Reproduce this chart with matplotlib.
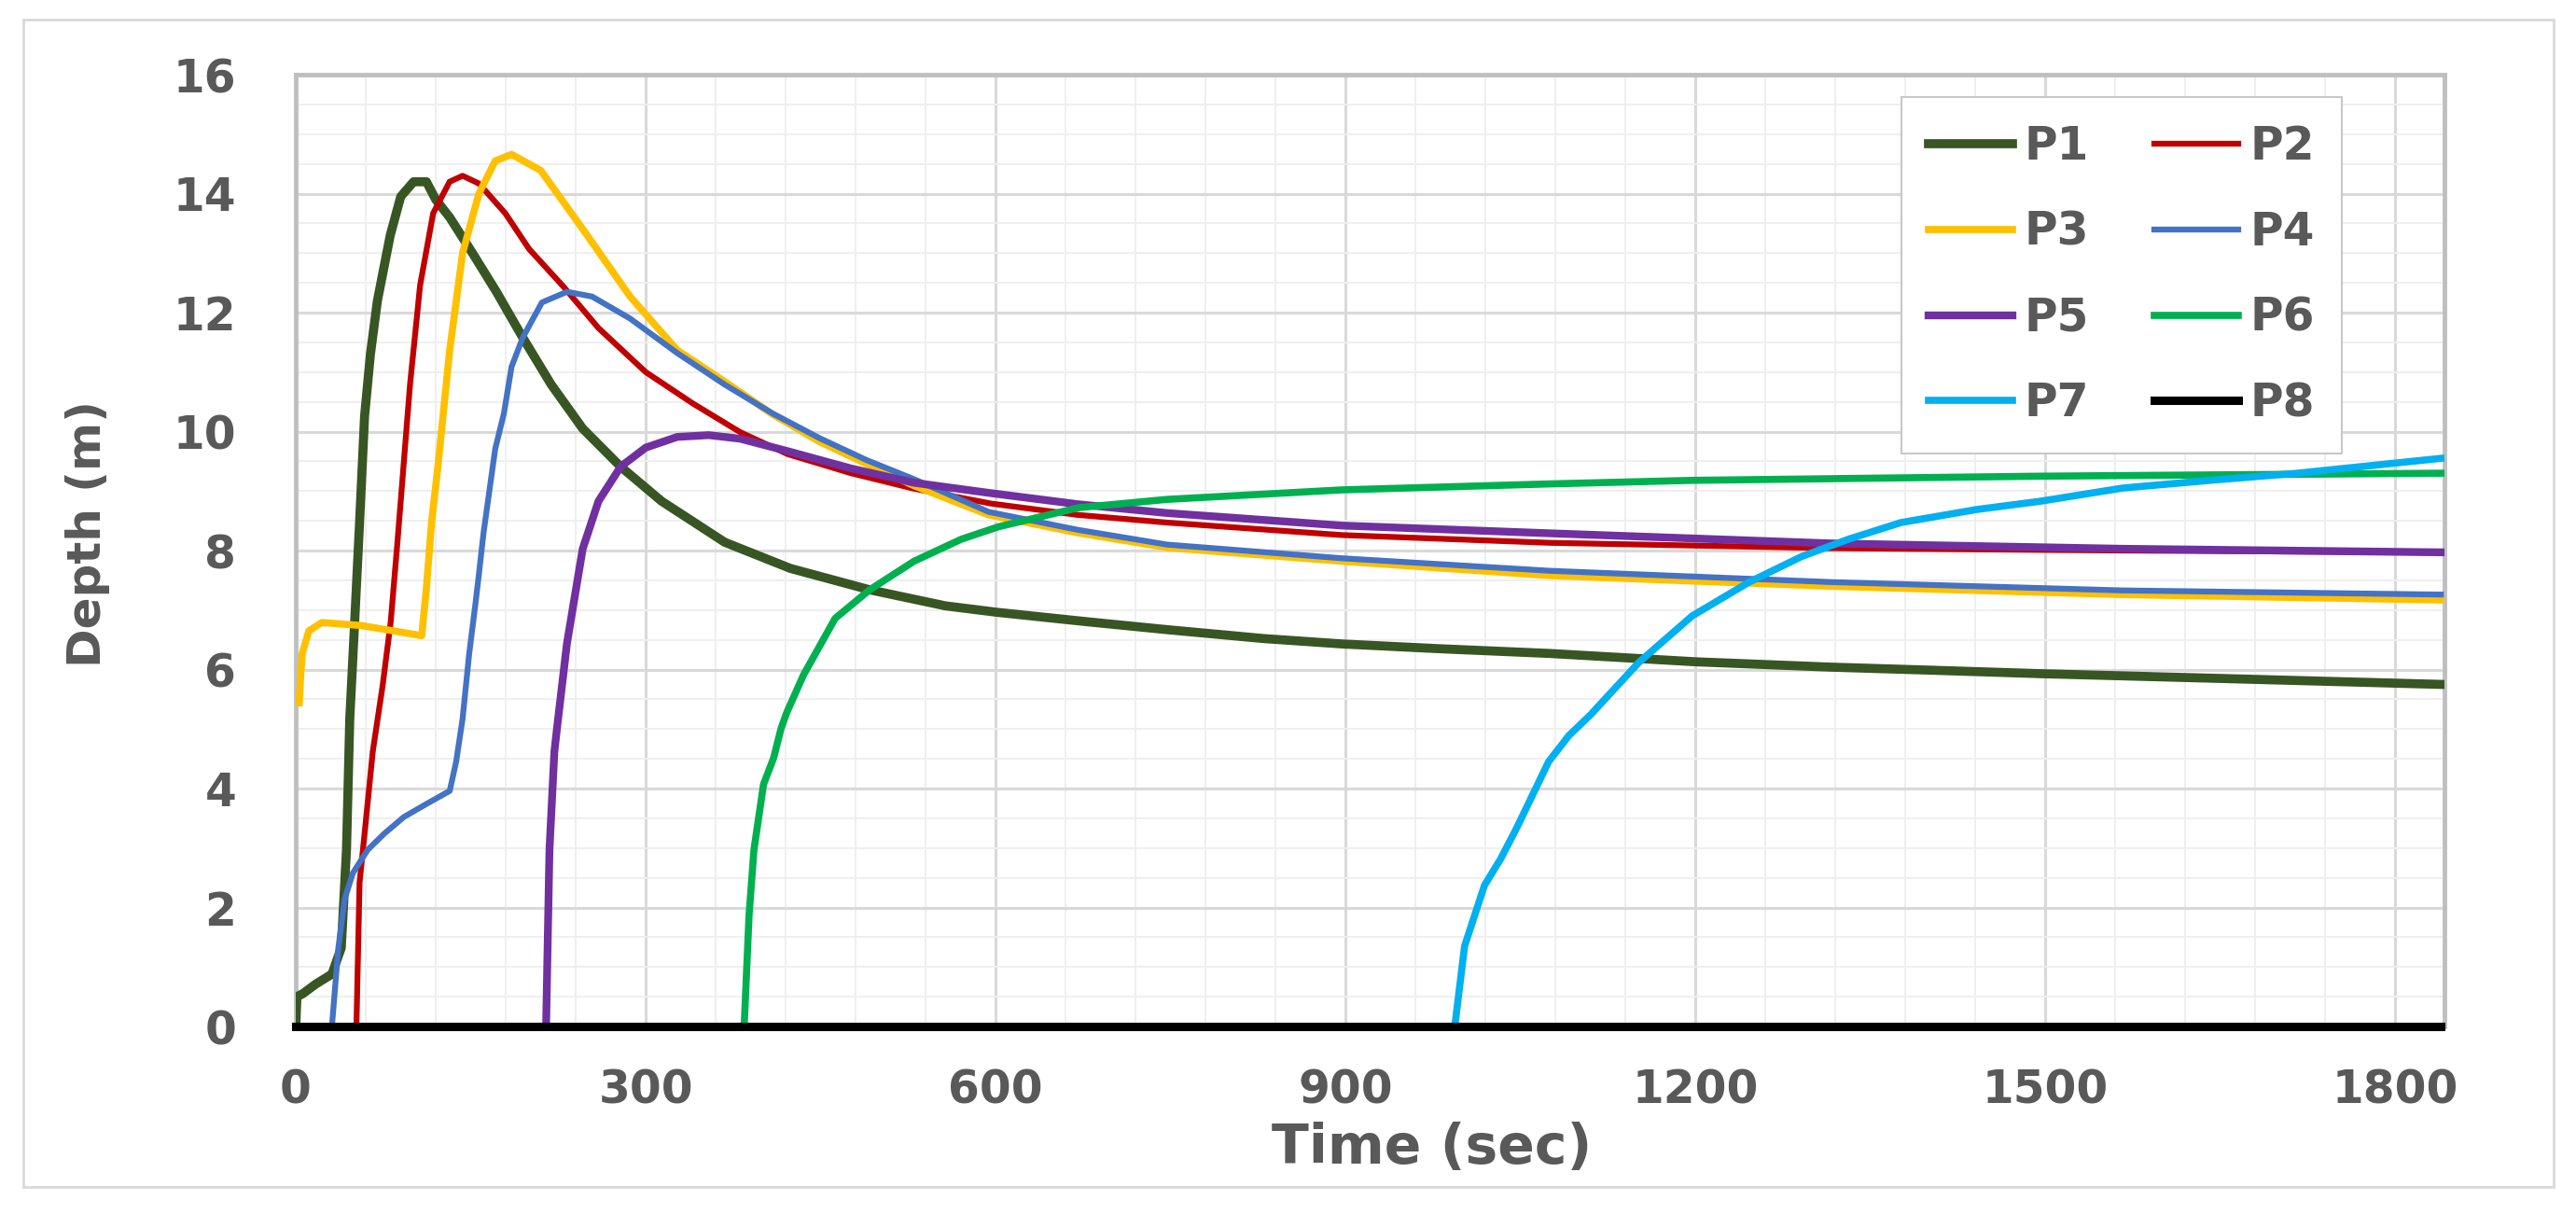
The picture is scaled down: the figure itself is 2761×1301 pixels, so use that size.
import matplotlib
matplotlib.use('Agg')
import matplotlib.pyplot as plt
from matplotlib.ticker import MultipleLocator
from matplotlib.patches import Rectangle

plt.rcParams['font.family'] = ['DejaVu Sans']
plt.rcParams['font.weight'] = 'bold'

# ---------------- data ----------------
names = ['P1', 'P2', 'P3', 'P4', 'P5', 'P6', 'P7', 'P8']

t_p1 = [0, 1, 6, 17, 31, 39, 43.5, 46.3, 50.5, 54.7,
        59, 64, 70, 81, 90, 101, 112, 120, 132, 151.5,
        172, 194.6, 219, 246, 278.5, 313.6, 367.7, 424, 492, 557,
        602, 680, 747, 830, 897, 980, 1075, 1200, 1316, 1400,
        1496, 1650, 1839]
d_p1 = [0, 0.5, 0.55, 0.71, 0.88, 1.32, 2.97, 5.17, 6.8, 8.47,
        10.26, 11.3, 12.2, 13.3, 13.95, 14.2, 14.2, 13.9, 13.6, 13.0,
        12.35, 11.58, 10.79, 10.05, 9.41, 8.83, 8.14, 7.7, 7.34, 7.07,
        6.96, 6.8, 6.67, 6.52, 6.43, 6.35, 6.27, 6.13, 6.04, 5.99,
        5.93, 5.85, 5.75]

t_p2 = [52, 54.7, 59, 66, 74.4, 81.4, 87, 98, 106.6, 117.8,
        131.9, 143, 157, 179.6, 200, 229.8, 259.5, 300, 340.6, 381,
        421.8, 476, 530, 596, 670, 747, 897, 1075, 1316, 1566,
        1839]
d_p2 = [0, 2.42, 3.24, 4.62, 5.72, 6.8, 8.1, 10.8, 12.46, 13.67,
        14.2, 14.3, 14.17, 13.67, 13.07, 12.43, 11.74, 11.0, 10.47, 9.99,
        9.62, 9.3, 9.04, 8.79, 8.6, 8.47, 8.26, 8.13, 8.04, 8.0,
        7.97]

t_p3 = [3, 4.2, 5.6, 11.2, 22.4, 56, 108, 112, 116.4, 122,
        131.9, 143, 157, 171, 185, 210, 248.7, 286.6, 327, 367.7,
        408, 449, 490, 530, 594, 670, 747, 897, 1075, 1316,
        1566, 1839]
d_p3 = [5.44, 5.9, 6.27, 6.65, 6.79, 6.74, 6.57, 7.37, 8.47, 9.44,
        11.36, 13.0, 14.0, 14.55, 14.66, 14.39, 13.33, 12.27, 11.37, 10.84,
        10.3, 9.83, 9.45, 9.09, 8.6, 8.3, 8.05, 7.82, 7.58, 7.4,
        7.26, 7.17]

t_p4 = [31, 36.5, 42, 49, 61.7, 75.8, 92.6, 112, 132, 137.5,
        143, 148.7, 154, 157, 161, 171, 178.4, 185, 194.6, 211,
        232.5, 254, 286.6, 327, 367.7, 408.3, 449, 489.4, 530, 594,
        670, 747, 897, 1075, 1316, 1566, 1839]
d_p4 = [0, 1.32, 2.15, 2.58, 2.97, 3.24, 3.52, 3.74, 3.96, 4.45,
        5.17, 6.27, 7.1, 7.6, 8.3, 9.71, 10.3, 11.09, 11.58, 12.17,
        12.35, 12.27, 11.9, 11.32, 10.79, 10.31, 9.89, 9.52, 9.2, 8.65,
        8.35, 8.1, 7.87, 7.66, 7.47, 7.33, 7.26]

t_p5 = [214.6, 217.5, 221.7, 224, 232.5, 246, 259.5, 278.5, 300, 327,
        354, 381, 421.8, 476, 530, 594, 670, 747, 897, 1075,
        1316, 1566, 1839]
d_p5 = [0, 2.97, 4.62, 5.02, 6.44, 8.03, 8.83, 9.41, 9.73, 9.91,
        9.94, 9.88, 9.67, 9.38, 9.14, 8.97, 8.78, 8.63, 8.42, 8.29,
        8.12, 8.03, 7.97]

t_p6 = [384.4, 388.6, 392.8, 401, 409.6, 416.2, 421, 435.3, 462.4, 492,
        530, 570.5, 602.5, 671, 747, 897, 1075, 1197, 1496, 1839]
d_p6 = [0, 1.87, 2.97, 4.07, 4.51, 5.02, 5.28, 5.91, 6.86, 7.34,
        7.82, 8.19, 8.4, 8.72, 8.86, 9.02, 9.12, 9.18, 9.25, 9.3]

t_p7 = [993.6, 1002, 1019, 1033, 1047, 1074, 1091.4, 1110, 1151.4, 1197,
        1246, 1291, 1331, 1376, 1441, 1496, 1566, 1641, 1716, 1839]
d_p7 = [0, 1.35, 2.37, 2.82, 3.35, 4.45, 4.89, 5.24, 6.12, 6.9,
        7.47, 7.9, 8.19, 8.47, 8.69, 8.83, 9.05, 9.18, 9.3, 9.55]

t_p8 = [0, 1839]
d_p8 = [0, 0]

times = [t_p1, t_p2, t_p3, t_p4, t_p5, t_p6, t_p7, t_p8]
depths = [d_p1, d_p2, d_p3, d_p4, d_p5, d_p6, d_p7, d_p8]

x_ticks = [0, 300, 600, 900, 1200, 1500, 1800]
y_ticks = [0, 2, 4, 6, 8, 10, 12, 14, 16]

# ---------------- styles ----------------
colors = ['#375623', '#C00000', '#FFC000', '#4472C4', '#7030A0', '#00B050', '#00B0F0', '#000000']
widths = [7.0, 4.5, 5.5, 4.5, 6.0, 5.5, 5.5, 6.5]
text_color = '#595959'

fig = plt.figure(figsize=(27.61, 13.01), dpi=100)
fig.patch.set_facecolor('white')
fig.patches.append(Rectangle((25 / 2761, 1 - 1272 / 1301), (2737 - 25) / 2761,
                             (1272 - 21) / 1301, transform=fig.transFigure,
                             fill=False, ec='#d9d9d9', lw=2))

ax = fig.add_axes([317 / 2761, 1 - 1100 / 1301, (2620 - 317) / 2761, (1100 - 80) / 1301])

for name, t, d, c, lw in zip(names, times, depths, colors, widths):
    ax.plot(t, d, color=c, lw=lw, label=name, solid_joinstyle='round',
            clip_on=(name != 'P8'), zorder=3)

ax.set_xlim(0, 1842)
ax.set_ylim(0, 16)
ax.set_xticks(x_ticks)
ax.set_yticks(y_ticks)
ax.xaxis.set_minor_locator(MultipleLocator(60))
ax.yaxis.set_minor_locator(MultipleLocator(0.5))
ax.set_axisbelow(True)
ax.grid(which='major', color='#d9d9d9', lw=2.2)
ax.grid(which='minor', color='#efefef', lw=1.4)

for s in ax.spines.values():
    s.set_color('#bfbfbf')
    s.set_linewidth(3.5)

ax.tick_params(which='both', length=0)
ax.tick_params(axis='y', pad=46, labelsize=35, labelcolor=text_color)
ax.tick_params(axis='x', pad=32, labelsize=35, labelcolor=text_color)

ax.set_xlabel('Time (sec)', fontsize=42, fontweight='bold', color=text_color)
ax.xaxis.set_label_coords((1535 - 317) / 2303, (1100 - 1231) / 1020)
ax.xaxis.label.set_va('center')
ax.set_ylabel('Depth (m)', fontsize=36, fontweight='bold', color=text_color)
ax.yaxis.set_label_coords((94 - 317) / 2303, (1100 - 572) / 1020)
ax.yaxis.label.set_va('center')

handles, labels = ax.get_legend_handles_labels()
order = [0, 2, 4, 6, 1, 3, 5, 7]
leg = ax.legend([handles[i] for i in order], [labels[i] for i in order], ncol=2,
                loc='upper left', bbox_to_anchor=(2038 / 2761, 1 - 104 / 1301),
                bbox_transform=fig.transFigure, fontsize=35, frameon=True,
                fancybox=False, edgecolor='#c8c8c8', framealpha=1,
                handlelength=1.85, handletextpad=0.25, columnspacing=1.45,
                labelspacing=0.9, borderpad=0.6, borderaxespad=0)
leg.get_frame().set_linewidth(1.5)
for txt in leg.get_texts():
    txt.set_color(text_color)

fig.savefig('out.png', dpi=100, facecolor='white')
